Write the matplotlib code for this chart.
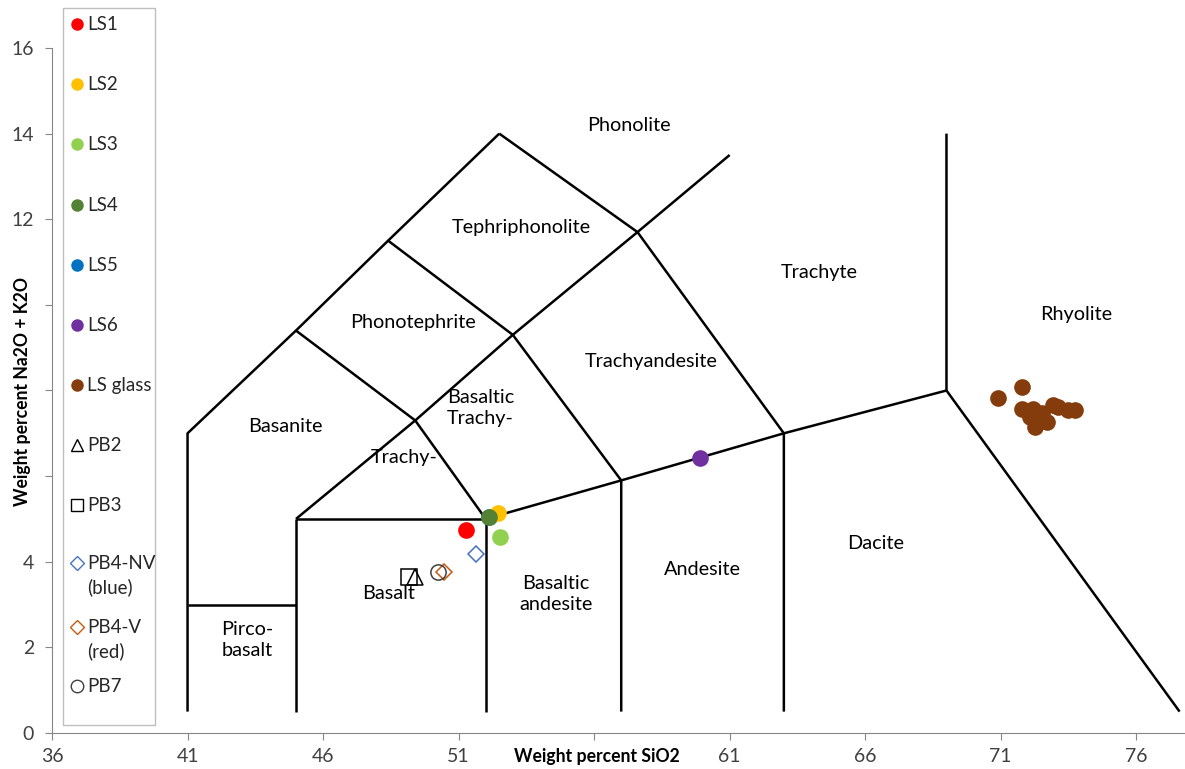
import matplotlib.pyplot as plt
from matplotlib.patches import Rectangle

plt.rcParams['font.family'] = ['Lato', 'DejaVu Sans']

# TAS classification boundaries (SiO2, Na2O+K2O)
boundaries = [
    ([41, 41, 45, 48.4, 52.5], [0.5, 7, 9.4, 11.5, 14]),
    ([41, 45], [3, 3]),
    ([45, 45], [0.5, 5]),
    ([45, 52, 52], [5, 5, 0.5]),
    ([45, 49.4, 52], [5, 7.3, 5]),
    ([45, 49.4], [9.4, 7.3]),
    ([48.4, 53, 57, 57], [11.5, 9.3, 5.9, 0.5]),
    ([49.4, 53, 57.6], [7.3, 9.3, 11.7]),
    ([52.5, 57.6, 61], [14, 11.7, 13.5]),
    ([57.6, 63, 63], [11.7, 7, 0.5]),
    ([52, 57, 63, 69, 69], [5, 5.9, 7, 8, 14]),
    ([69, 77.6], [8, 0.5]),
]

field_names = ['Phonolite', 'Tephriphonolite', 'Trachyte', 'Rhyolite', 'Phonotephrite',
               'Trachyandesite', 'Basaltic\nTrachy-', 'Basanite', 'Trachy-', 'Dacite',
               'Andesite', 'Basaltic\nandesite', 'Basalt', 'Pirco-\nbasalt']
field_x = [57.3, 53.3, 64.3, 73.8, 49.3, 58.1, 51.8, 44.6, 49.0, 66.4, 60.0, 54.6, 48.4, 43.2]
field_y = [14.2, 11.8, 10.75, 9.77, 9.58, 8.67, 7.59, 7.17, 6.43, 4.42, 3.83, 3.25, 3.25, 2.17]

# Lake sediment samples
ls_names = ['LS1', 'LS2', 'LS3', 'LS4', 'LS5', 'LS6']
ls_colors = ['#ff0000', '#ffc000', '#92d050', '#548235', '#0070c0', '#7030a0']
ls_sio2 = [51.28, 52.46, 52.53, 52.13, 52.13, 59.91]
ls_alk = [4.74, 5.14, 4.58, 5.05, 5.05, 6.43]
ls_z = [5, 5, 5, 6, 4, 5]

glass_sio2 = [70.91, 71.79, 71.79, 72.20, 72.09, 72.27, 72.72, 72.53, 72.94, 73.12, 73.49, 73.75]
glass_alk = [7.83, 8.08, 7.57, 7.57, 7.38, 7.15, 7.27, 7.48, 7.66, 7.62, 7.55, 7.55]
glass_color = '#843c0c'

# PB samples
pb_names = ['PB2', 'PB3', 'PB4-NV\n(blue)', 'PB4-V\n(red)', 'PB7']
pb_markers = ['^', 's', 'D', 'D', 'o']
pb_colors = ['black', 'black', '#4472c4', '#c55a11', '#404040']
pb_sio2 = [49.4, 49.17, 51.65, 50.46, 50.24]
pb_alk = [3.64, 3.64, 4.18, 3.76, 3.76]
pb_sizes = [11, 11, 8, 8, 11]

fig = plt.figure(figsize=(11.85, 7.69), dpi=100)
ax = fig.add_axes([0.0439, 0.0468, 0.9561, 0.8908])

for xs, ys in boundaries:
    ax.plot(xs, ys, color='black', lw=1.8, zorder=2, solid_capstyle='butt')

for name, x, y in zip(field_names, field_x, field_y):
    ax.text(x, y, name, ha='center', va='center', fontsize=14.3, linespacing=1.3, zorder=3)

for c, x, y, z in zip(ls_colors, ls_sio2, ls_alk, ls_z):
    ax.plot(x, y, 'o', color=c, ms=12, mec='none', zorder=z)
ax.plot(glass_sio2, glass_alk, 'o', color=glass_color, ms=12, mec='none', ls='none', zorder=5)
for m, c, x, y, s in zip(pb_markers, pb_colors, pb_sio2, pb_alk, pb_sizes):
    ax.plot(x, y, m, mfc='none', mec=c, ms=s, mew=1.1, zorder=5)

ax.set_xlim(36, 77.8)
ax.set_ylim(0, 16)
ax.set_xticks([36, 41, 46, 51, 56, 61, 66, 71, 76])
ax.set_xticklabels(['36', '41', '46', '51', '', '61', '66', '71', '76'])
ax.set_yticks(range(0, 17, 2))
ax.set_yticklabels(['0', '2', '4', '', '', '', '12', '14', '16'])
for side in ['top', 'right']:
    ax.spines[side].set_visible(False)
for side in ['left', 'bottom']:
    ax.spines[side].set_color('#868686')
ax.tick_params(axis='both', colors='#868686', labelcolor='#404040', labelsize=14, length=5)
ax.tick_params(axis='x', pad=6)
ax.tick_params(axis='y', pad=8)

ax.text(56.1, -0.55, 'Weight percent SiO2', ha='center', va='center', fontsize=12.7,
        fontweight='bold', transform=ax.transData, clip_on=False)
fig.text(0.0186, 0.491, 'Weight percent Na2O + K2O', rotation=90, ha='center', va='center',
         fontsize=12.7, fontweight='bold')

# Legend drawn on a pixel-space overlay
lg = fig.add_axes([0, 0, 1, 1], facecolor='none')
lg.set_xlim(0, 1185)
lg.set_ylim(769, 0)
lg.axis('off')
lg.add_patch(Rectangle((63, 8), 92, 717, fill=False, ec='#bfbfbf', lw=1.0))

leg_labels = ls_names + ['LS glass'] + pb_names
leg_rows = [24, 84, 144, 205, 265, 325, 385, 445, 505, 563, 627, 686]
for i, (label, row) in enumerate(zip(leg_labels, leg_rows)):
    if i < len(ls_names):
        lg.plot(77, row, 'o', color=ls_colors[i], mec='none', ms=9)
    elif i == len(ls_names):
        lg.plot(77, row, 'o', color=glass_color, mec='none', ms=9)
    else:
        j = i - len(ls_names) - 1
        m = pb_markers[j]
        lg.plot(77, row, m, mfc='none', mec=pb_colors[j], ms=7 if m == 'D' else 9, mew=1.0)
    lg.text(87, row - 8, label, ha='left', va='top', fontsize=13.5, linespacing=1.45,
            color='#262626')

plt.savefig('out.png')
